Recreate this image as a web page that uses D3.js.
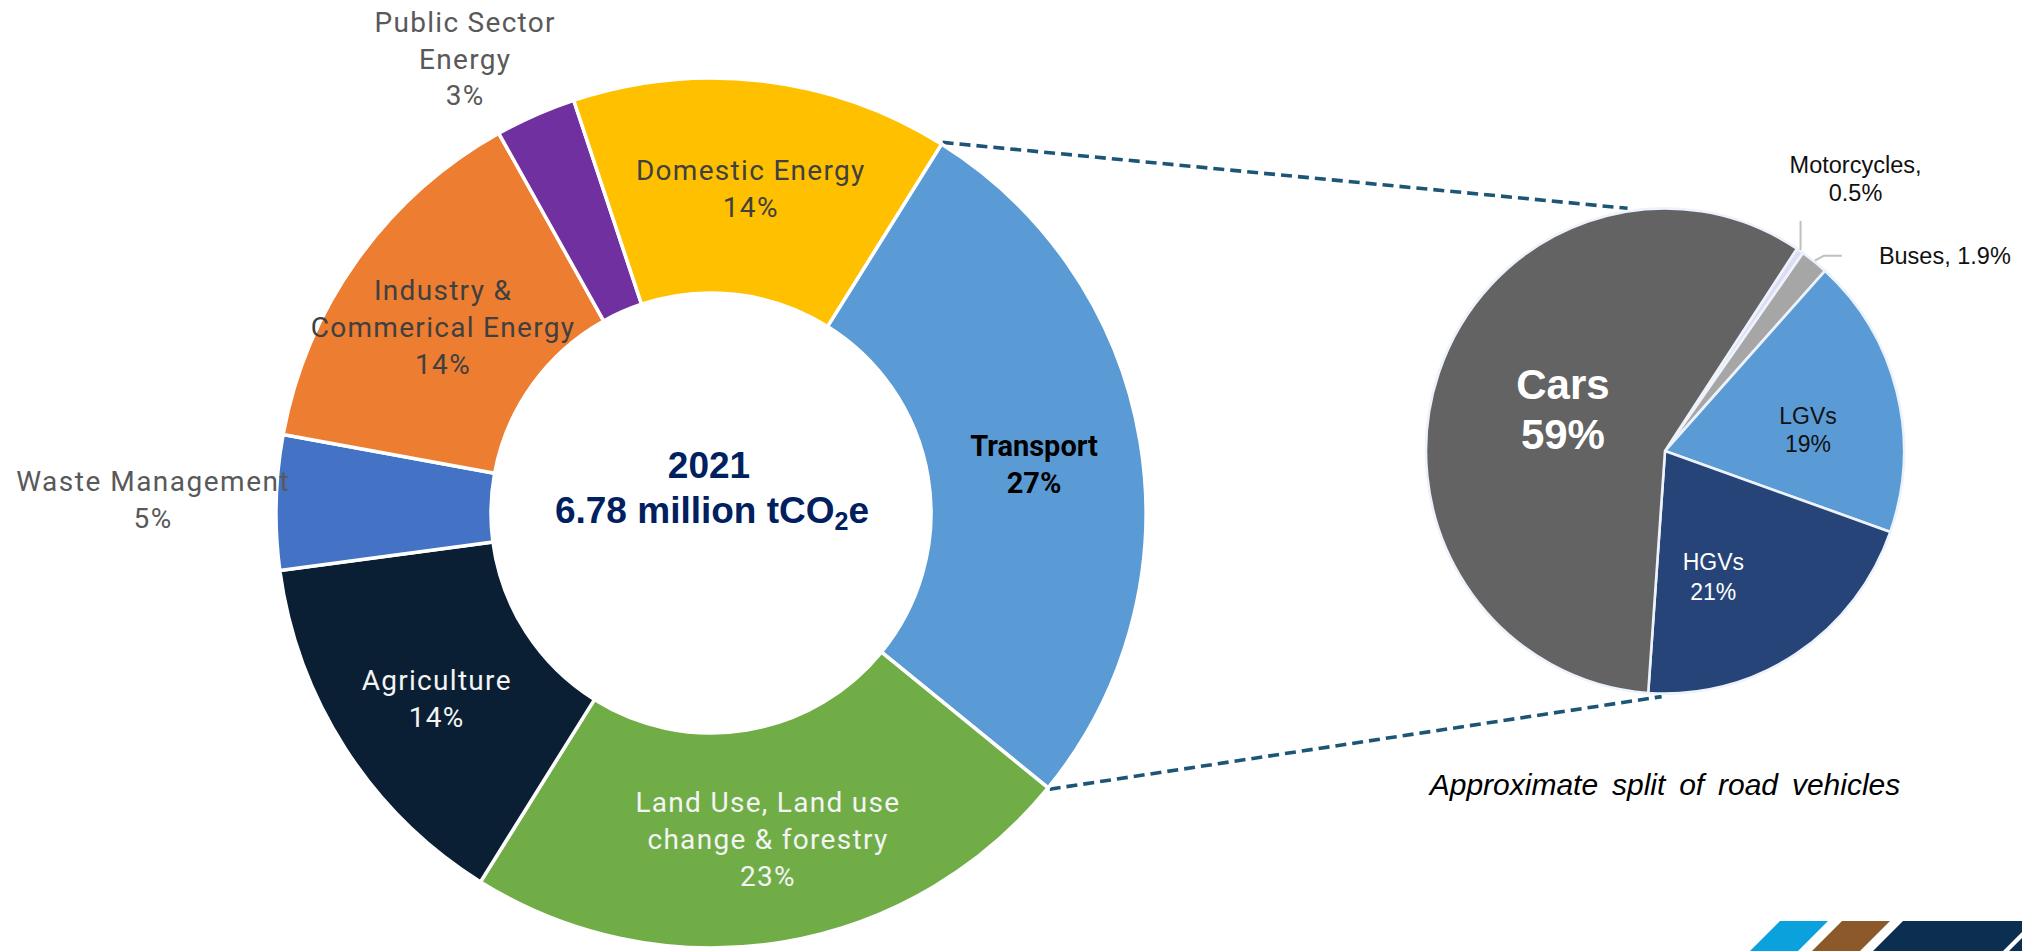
<!DOCTYPE html>
<html>
<head>
<meta charset="utf-8">
<script src="https://cdn.jsdelivr.net/npm/d3@7"></script>
<style>
  html, body { margin: 0; padding: 0; background: #ffffff; overflow: hidden; }
  svg { display: block; }
</style>
</head>
<body>
<svg id="chart" width="2022" height="951"></svg>
<script>
// ---- Emissions by sector, 2021 (share of total, %) ----
const sectorNames = [
  "Transport",
  "Land Use, Land use change & forestry",
  "Agriculture",
  "Waste Management",
  "Industry & Commerical Energy",
  "Public Sector Energy",
  "Domestic Energy"
];
const sectorShares = [27, 23, 14, 5, 14, 3, 14];
const sectorLabelLines = [
  ["Transport"],
  ["Land Use, Land use", "change & forestry"],
  ["Agriculture"],
  ["Waste Management"],
  ["Industry &", "Commerical Energy"],
  ["Public Sector", "Energy"],
  ["Domestic Energy"]
];
const sectorColors = ["#5B9BD5", "#70AD47", "#0A1F33", "#4472C4", "#ED7D31", "#7030A0", "#FFC000"];

// ---- Road transport split by vehicle type (%) ----
const vehicleNames = ["Motorcycles", "Buses", "LGVs", "HGVs", "Cars"];
const vehicleShares = [0.5, 1.9, 19, 21, 59];
const vehicleColors = ["#DCDCF2", "#A6A6A6", "#5B9BD5", "#264478", "#636363"];

// ---- Centre caption ----
const totalYear = "2021";
const totalValue = 6.78;

const svg = d3.select("#chart");
const deg = Math.PI / 180;
const polar = (cx, cy, aDeg, r) => [cx + r * Math.sin(aDeg * deg), cy - r * Math.cos(aDeg * deg)];

// ---------------- Donut ----------------
const donut = { cx: 711, cy: 513, outer: 435, inner: 220, start: 32 };

const sectorPie = d3.pie().sort(null).value(d => d.share)
  .startAngle(donut.start * deg).endAngle(donut.start * deg + 2 * Math.PI);
const sectors = sectorPie(sectorNames.map((name, i) => ({
  name, share: sectorShares[i], lines: sectorLabelLines[i], color: sectorColors[i]
})));
const sectorArc = d3.arc().innerRadius(donut.inner).outerRadius(donut.outer);

// ---------------- Vehicle pie ----------------
const pie = { cx: 1665, cy: 451, r: 239, stretchY: 1.015, start: 33.5 };
const vehiclePie = d3.pie().sort(null).value(d => d.share)
  .startAngle(pie.start * deg).endAngle(pie.start * deg + 2 * Math.PI);
const vehicles = vehiclePie(vehicleNames.map((name, i) => ({
  name, share: vehicleShares[i], color: vehicleColors[i]
})));
const vehicleArc = d3.arc().innerRadius(0).outerRadius(pie.r);
// point on the (slightly stretched) pie at a given angle and radius
const piePoint = (aDeg, r) => {
  const [x, y] = polar(0, 0, aDeg, r);
  return [pie.cx + x, pie.cy + y * pie.stretchY];
};

// Dashed connectors from the Transport wedge to the vehicle pie
const transport = sectors[0];
const connectorG = svg.append("g")
  .attr("fill", "none").attr("stroke", "#1D5577")
  .attr("stroke-width", 3.6).attr("stroke-dasharray", "11,6");
const tStart = polar(donut.cx, donut.cy, transport.startAngle / deg, donut.outer + 2);
const tEnd = polar(donut.cx, donut.cy, transport.endAngle / deg, donut.outer + 2);
const pTop = piePoint(-8.9, pie.r + 3);
const pBottom = piePoint(180.8, pie.r + 3);
connectorG.append("line").attr("x1", tStart[0]).attr("y1", tStart[1]).attr("x2", pTop[0]).attr("y2", pTop[1]);
connectorG.append("line").attr("x1", tEnd[0]).attr("y1", tEnd[1]).attr("x2", pBottom[0]).attr("y2", pBottom[1]);

// Donut wedges
const donutG = svg.append("g").attr("transform", `translate(${donut.cx},${donut.cy})`);
donutG.selectAll("path").data(sectors).join("path")
  .attr("d", sectorArc)
  .attr("fill", d => d.data.color)
  .attr("stroke", "#ffffff").attr("stroke-width", 3.5).attr("stroke-linejoin", "round");

// Donut labels: inside wedges at the ring centroid, or outside along the mid angle
const labelStyle = {
  "Transport":   { place: "in", color: "#000000", weight: 700, size: 29, spacing: 0, dx: 0, dy: 4.4 },
  "Land Use, Land use change & forestry": { place: "in", color: "#F4F4F4", weight: 400, size: 28, spacing: 1.3, dx: 3.5, dy: 3 },
  "Agriculture": { place: "in", color: "#F4F4F4", weight: 400, size: 28, spacing: 1.3, dx: 1, dy: 8.4 },
  "Waste Management": { place: "out", r: 558, color: "#595959", weight: 400, size: 28, spacing: 1.5, dx: 0, dy: 0 },
  "Industry & Commerical Energy": { place: "in", color: "#404040", weight: 400, size: 28, spacing: 1.3, dx: -1.7, dy: 4.2 },
  "Public Sector Energy": { place: "out", r: 515, color: "#595959", weight: 400, size: 28, spacing: 1.3, dx: -38, dy: 17 },
  "Domestic Energy": { place: "in", color: "#404040", weight: 400, size: 28, spacing: 1.3, dx: 1, dy: 0.4 }
};
const ringMid = (donut.inner + donut.outer) / 2;

sectors.forEach(s => {
  const st = labelStyle[s.data.name];
  const mid = (s.startAngle + s.endAngle) / 2 / deg;
  const r = st.place === "in" ? ringMid : st.r;
  const [x0, y0] = polar(donut.cx, donut.cy, mid, r);
  const x = x0 + st.dx, yc = y0 + st.dy;
  const lines = s.data.lines.concat([s.data.share + "%"]);
  const lh = st.place === "in" ? 37 : 36.5;
  const cap = st.size * 0.711;
  const firstBase = yc - (lines.length - 1) * lh / 2 + cap / 2;
  const t = svg.append("text")
    .attr("text-anchor", "middle")
    .attr("font-family", "Roboto, 'Noto Sans', sans-serif")
    .attr("font-size", st.size)
    .attr("font-weight", st.weight)
    .attr("letter-spacing", st.spacing)
    .attr("fill", st.color);
  lines.forEach((ln, i) => {
    t.append("tspan").attr("x", x).attr("y", firstBase + i * lh).text(ln);
  });
});

// Centre caption
const centreFont = "'Liberation Sans', Arial, sans-serif";
svg.append("text")
  .attr("text-anchor", "middle")
  .attr("font-family", centreFont)
  .attr("font-weight", 700)
  .attr("font-size", 37)
  .attr("fill", "#002060")
  .attr("x", donut.cx - 2).attr("y", donut.cy - 35)
  .text(totalYear);
const totalLine = svg.append("text")
  .attr("text-anchor", "middle")
  .attr("font-family", centreFont)
  .attr("font-weight", 700)
  .attr("font-size", 37)
  .attr("fill", "#002060")
  .attr("x", donut.cx + 1).attr("y", donut.cy + 10);
totalLine.append("tspan").text(`${totalValue} million tCO`);
totalLine.append("tspan").attr("font-size", 25).attr("dy", 7).text("2");
totalLine.append("tspan").attr("dy", -7).text("e");

// Vehicle pie wedges
const pieG = svg.append("g")
  .attr("transform", `translate(${pie.cx},${pie.cy}) scale(1,${pie.stretchY})`);
pieG.selectAll("path").data(vehicles).join("path")
  .attr("d", vehicleArc)
  .attr("fill", d => d.data.color)
  .attr("stroke", "#EEF3FB").attr("stroke-width", 2.6).attr("stroke-linejoin", "round");

// Vehicle labels inside the larger wedges (polar placement from the pie centre)
const vehicleLabel = {
  "Cars": { angle: 291.9, r: 110, size: 42, weight: 700, color: "#FFFFFF", lh: 50 },
  "LGVs": { angle: 81.6, r: 144.6, size: 23, weight: 400, color: "#111111", lh: 28 },
  "HGVs": { angle: 158.7, r: 133, size: 23, weight: 400, color: "#FFFFFF", lh: 30 }
};
const pieFont = "'Liberation Sans', Arial, sans-serif";
vehicles.forEach(v => {
  const st = vehicleLabel[v.data.name];
  if (!st) return;
  const [x, yc] = piePoint(st.angle, st.r);
  const cap = st.size * 0.716;
  const lines = [v.data.name, v.data.share + "%"];
  const firstBase = yc - st.lh / 2 + cap / 2;
  const t = svg.append("text")
    .attr("text-anchor", "middle")
    .attr("font-family", pieFont)
    .attr("font-size", st.size).attr("font-weight", st.weight).attr("fill", st.color);
  lines.forEach((ln, i) => t.append("tspan").attr("x", x).attr("y", firstBase + i * st.lh).text(ln));
});

// Small wedges get leader lines and outside labels
const leaderG = svg.append("g").attr("fill", "none").attr("stroke", "#BFBFBF").attr("stroke-width", 2);
const moto = vehicles[0], bus = vehicles[1];
const mP = piePoint((moto.startAngle + moto.endAngle) / 2 / deg, pie.r + 1);
leaderG.append("path").attr("d", `M${mP[0]},${mP[1]}V${mP[1] - 29}`);
const bP = piePoint((bus.startAngle + bus.endAngle) / 2 / deg, pie.r + 1);
leaderG.append("path").attr("d", `M${bP[0]},${bP[1]}L${bP[0] + 9},${bP[1] - 5}H${bP[0] + 27}`);

const mt = svg.append("text").attr("text-anchor", "middle").attr("font-family", pieFont)
  .attr("font-size", 23.5).attr("fill", "#111111");
mt.append("tspan").attr("x", mP[0] + 55).attr("y", mP[1] - 77).text(moto.data.name + ",");
mt.append("tspan").attr("x", mP[0] + 55).attr("y", mP[1] - 48.5).text(moto.data.share + "%");
svg.append("text").attr("font-family", pieFont).attr("font-size", 23.5).attr("fill", "#111111")
  .attr("x", bP[0] + 64).attr("y", bP[1] + 3)
  .text(`${bus.data.name}, ${bus.data.share}%`);

// Caption under the vehicle pie
svg.append("text")
  .attr("x", pie.cx).attr("y", 795)
  .attr("text-anchor", "middle")
  .attr("font-family", pieFont)
  .attr("font-style", "italic")
  .attr("font-size", 30)
  .attr("word-spacing", 5.5)
  .attr("fill", "#000000")
  .text("Approximate split of road vehicles");

// Corner stripes
const stripes = [
  { fill: "#0AA1DD", pts: [[1780, 921], [1828, 921], [1798, 951], [1750, 951]] },
  { fill: "#8C5A2A", pts: [[1842, 921], [1890, 921], [1860, 951], [1812, 951]] },
  { fill: "#0C2E51", pts: [[1903, 921], [2022, 921], [2022, 951], [1873, 951]] },
  { fill: "#FFFFFF", pts: [[2003, 951], [2022, 932], [2022, 938], [2009, 951]] }
];
svg.append("g").selectAll("polygon").data(stripes).join("polygon")
  .attr("points", d => d.pts.map(p => p.join(",")).join(" "))
  .attr("fill", d => d.fill);
</script>
</body>
</html>
